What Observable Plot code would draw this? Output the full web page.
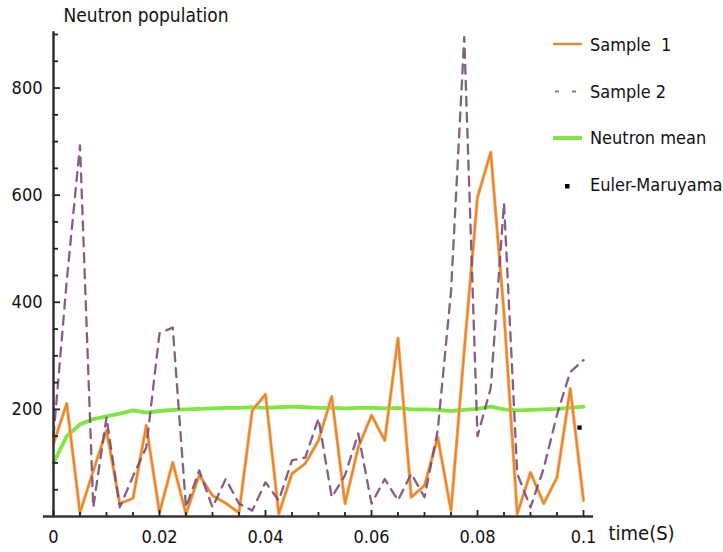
<!DOCTYPE html>
<html>
<head>
<meta charset="utf-8">
<script src="https://cdn.jsdelivr.net/npm/d3@7"></script>
<script src="https://cdn.jsdelivr.net/npm/@observablehq/plot@0.6"></script>
<style>
  html, body { margin: 0; padding: 0; background: #fff; }
  #wrap { position: relative; width: 723px; height: 552px; font-family: "DejaVu Sans Condensed", "DejaVu Sans", sans-serif; font-stretch: condensed; }
  #legend { position: absolute; left: 550px; top: 0; font-size: 18px; color: #111; }
  .row { position: absolute; left: 0; height: 24px; display: flex; align-items: center; white-space: pre; }
  .row svg { width: 36px; height: 24px; margin-right: 4px; }
</style>
</head>
<body>
<div id="wrap"><div id="chart"></div><div id="legend"></div></div>
<script>
// ---- data ----
const time = [0,0.0025,0.005,0.0075,0.01,0.0125,0.015,0.0175,0.02,0.0225,0.025,0.0275,0.03,0.0325,0.035,0.0375,0.04,0.0425,0.045,0.0475,0.05,0.0525,0.055,0.0575,0.06,0.0625,0.065,0.0675,0.07,0.0725,0.075,0.0775,0.08,0.0825,0.085,0.0875,0.09,0.0925,0.095,0.0975,0.1];
const sample1 = [136,211,7,85,161,24,34,170,7,101,5,77,39,25,7,198,228,5,80,99,142,224,24,129,189,142,333,36,58,148,11,310,596,680,380,5,82,24,73,239,30];
const sample2 = [150,440,693,17,185,17,75,129,342,353,17,86,17,70,24,11,64,30,105,110,183,36,77,155,24,70,30,80,36,161,420,895,150,240,585,80,17,90,190,270,292];
const neutronMean = [100,150,172,182,187,192,198,194,197,199,200,201,202,203,203,204,203,204,205,204,203,203,202,203,203,202,203,200,200,199,197,199,201,205,200,198,199,200,201,203,205];
const eulerTime = [0.09925];
const eulerValue = [166];

const xMajorTicks = [0, 0.02, 0.04, 0.06, 0.08, 0.1];
const xMajorLabels = ["0", "0.02", "0.04", "0.06", "0.08", "0.1"];
const xMinorTicks = [0.005,0.01,0.015,0.025,0.03,0.035,0.045,0.05,0.055,0.065,0.07,0.075,0.085,0.09,0.095];
const yMajorTicks = [200, 400, 600, 800];
const yMinorTicks = [50,100,150,250,300,350,450,500,550,650,700,750,850,900];
const xDomain = [0, 0.1];
const yDomain = [0, 900];
const xAxisExtent = [-0.0019, 0.1019];
const yAxisExtent = [0, 905];

const seriesNames = ["Sample  1", "Sample 2", "Neutron mean", "Euler-Maruyama"];
const colors = { s1: "#e8852a", s1halo: "#f4b878", s2: "#7a4a7c", mean: "#80e640", euler: "#000" };
const yLabel = "Neutron population";
const xLabel = "time(S)";

const rows = time.map((t, i) => ({t, s1: sample1[i], s2: sample2[i], mean: neutronMean[i]}));
const euler = eulerTime.map((t, i) => ({t, v: eulerValue[i]}));

const FONT = '"DejaVu Sans Condensed", "DejaVu Sans", sans-serif';

const chart = Plot.plot({
  width: 723,
  height: 552,
  marginLeft: 53,
  marginRight: 140,
  marginTop: 34,
  marginBottom: 36,
  style: {fontFamily: FONT, fontSize: "18px", color: "#111", background: "#fff", overflow: "visible"},
  x: {domain: xDomain, label: null},
  y: {domain: yDomain, label: null},
  marks: [
    Plot.line(rows, {x: "t", y: "mean", stroke: colors.mean, strokeWidth: 3.8}),
    Plot.line(rows, {x: "t", y: "s1", stroke: colors.s1halo, strokeWidth: 3.4}),
    Plot.line(rows, {x: "t", y: "s1", stroke: colors.s1, strokeWidth: 1.9}),
    Plot.line(rows, {x: "t", y: "s2", stroke: colors.s2, strokeWidth: 2.3, strokeDasharray: "9,7", strokeOpacity: 0.9}),
    Plot.dot(euler, {x: "t", y: "v", symbol: "square", r: 2.4, fill: colors.euler, stroke: null}),
    // axis lines
    Plot.ruleY([0], {x1: xAxisExtent[0], x2: xAxisExtent[1], stroke: "#333", strokeWidth: 2.5}),
    Plot.ruleX([0], {y1: yAxisExtent[0], y2: yAxisExtent[1], stroke: "#333", strokeWidth: 2.5}),
    // y ticks (inward) and labels
    Plot.axisY({ticks: yMinorTicks, tickSize: 5, dx: 5, tickFormat: () => "", label: null, stroke: "#222", strokeWidth: 1.8}),
    Plot.axisY({ticks: yMajorTicks, tickSize: 7, dx: 7, tickFormat: () => "", label: null, stroke: "#222", strokeWidth: 1.8}),
    Plot.axisY({ticks: yMajorTicks, tickSize: 0, tickPadding: 11, label: null, fontSize: 18, fill: "#111"}),
    // x ticks (inward) and labels
    Plot.axisX({ticks: xMinorTicks, tickSize: 4, dy: -4, tickFormat: () => "", label: null, stroke: "#222", strokeWidth: 1.8}),
    Plot.axisX({ticks: xMajorTicks, tickSize: 6, dy: -6, tickFormat: () => "", label: null, stroke: "#222", strokeWidth: 1.8}),
    Plot.axisX({ticks: xMajorTicks, tickSize: 0, tickPadding: 14, label: null, fontSize: 18, fill: "#111",
      tickFormat: (d) => xMajorLabels[xMajorTicks.indexOf(d)]}),
    // axis titles
    Plot.text([yLabel], {text: d => d, frameAnchor: "top-left", textAnchor: "start", lineAnchor: "middle", dx: 10, dy: -19, fontSize: 19, fill: "#111"}),
    Plot.text([xLabel], {text: d => d, frameAnchor: "bottom-right", textAnchor: "start", lineAnchor: "middle", dx: 25, dy: 17, fontSize: 20, fill: "#111"})
  ]
});
document.getElementById("chart").appendChild(chart);

// ---- legend (HTML overlay on the right) ----
const legend = document.getElementById("legend");
const legendTops = [32, 79, 125, 172];
const swatches = [
  `<svg viewBox="0 0 36 24"><line x1="3" x2="32" y1="12" y2="12" stroke="${colors.s1}" stroke-width="2.3"/></svg>`,
  `<svg viewBox="0 0 36 24"><line x1="5" x2="9" y1="12.5" y2="12.5" stroke="#8c7a8c" stroke-width="2"/><line x1="22" x2="26" y1="12.5" y2="12.5" stroke="#8c7a8c" stroke-width="2"/></svg>`,
  `<svg viewBox="0 0 36 24"><line x1="3" x2="32" y1="13" y2="13" stroke="${colors.mean}" stroke-width="4"/></svg>`,
  `<svg viewBox="0 0 36 24"><rect x="15" y="12" width="4.5" height="4.5" fill="#000"/></svg>`
];
seriesNames.forEach((name, i) => {
  const row = document.createElement("div");
  row.className = "row";
  row.style.top = legendTops[i] + "px";
  row.innerHTML = swatches[i] + `<span>${name}</span>`;
  legend.appendChild(row);
});
</script>
</body>
</html>
